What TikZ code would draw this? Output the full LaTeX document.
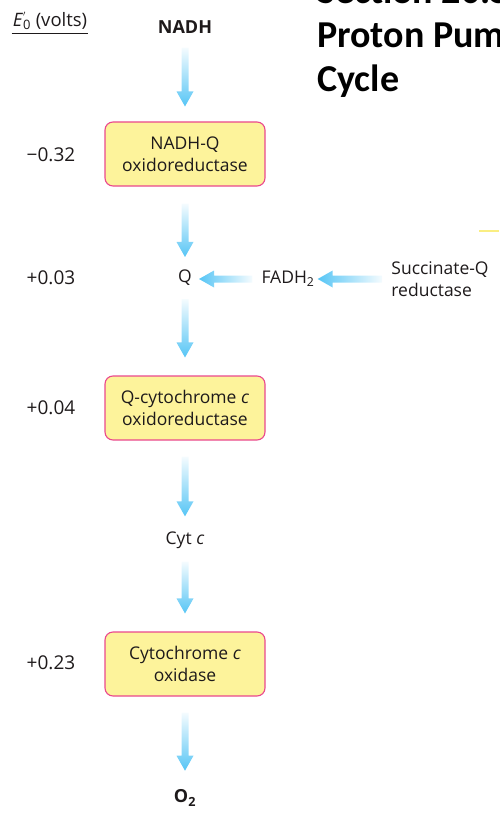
\documentclass[tikz,border=0pt]{standalone}
\usepackage{fontspec}
\setmainfont{Open Sans}
\newfontfamily\titlefont{Carlito}
\usetikzlibrary{calc, positioning}

\definecolor{flowblue}{RGB}{86,197,245}
\definecolor{enzymefill}{RGB}{253,243,155}
\definecolor{enzymeline}{RGB}{234,72,142}
\definecolor{textgray}{RGB}{30,26,27}
\definecolor{stripyellow}{RGB}{250,238,130}

% shaded flow arrows (tail pale, head blue)
\newcommand\downflow[2]{%
  \shade[top color=flowblue!6, bottom color=flowblue]
    let \p1=(#1), \p2=(#2) in
    (\x1-3.5pt,\y1) -- (\x1+3.5pt,\y1) -- (\x1+3.5pt,\y2+15pt) -- (\x1+8.5pt,\y2+15pt)
    -- (\x1,\y2) -- (\x1-8.5pt,\y2+15pt) -- (\x1-3.5pt,\y2+15pt) -- cycle;}
\newcommand\leftflow[2]{%
  \shade[left color=flowblue, right color=flowblue!6]
    let \p1=(#1), \p2=(#2) in
    (\x1,\y1-3.5pt) -- (\x2+15pt,\y1-3.5pt) -- (\x2+15pt,\y1-8.5pt) -- (\x2,\y1)
    -- (\x2+15pt,\y1+8.5pt) -- (\x2+15pt,\y1+3.5pt) -- (\x1,\y1+3.5pt) -- cycle;}

\begin{document}
\begin{tikzpicture}[x=1pt,y=-1pt,
    enzyme/.style={draw=enzymeline, fill=enzymefill, line width=1.1pt, rounded corners=8pt,
      minimum width=160pt, minimum height=64pt, align=center, text=textgray,
      font=\fontsize{17.5}{22}\selectfont},
    carrier/.style={text=textgray, font=\fontsize{17.5}{22}\selectfont, inner sep=1pt},
    potential/.style={text=textgray, font=\fontsize{19}{22}\selectfont},
    headline/.style={font=\titlefont\bfseries\fontsize{38}{44}\selectfont, anchor=base west, inner sep=0pt}]
  \useasboundingbox (0,0) rectangle (499,821);
  \clip (0,0) rectangle (499,821);

  % title
  \node[headline] (title1) at (317,4) {Section 20.5};
  \node[headline] (title2) at (317,48) {Proton Pump};
  \node[headline] (title3) at (317,92) {Cycle};
  \draw[stripyellow, line width=2pt] (479,231) -- (499,231);

  % potential scale
  \node[potential, inner sep=1pt, font=\fontsize{18.5}{22}\selectfont] (scale) at (50,21) {\textit{E}\rlap{\raisebox{5pt}{\fontsize{12}{12}\selectfont$'$}}\textsubscript{0} (volts)};
  \draw[textgray, line width=0.9pt] (scale.south west) ++(0,2) -- ($(scale.south east)+(0,2)$);
  \node[potential] (v1) at (51,155) {−0.32};
  \node[potential] (v2) at (51,278) {+0.03};
  \node[potential] (v3) at (51,408) {+0.04};
  \node[potential] (v4) at (51,663) {+0.23};

  % chain
  \node[carrier, font=\bfseries\fontsize{18}{20}\selectfont] (nadh) at (185,27) {NADH};
  \node[enzyme] (nadhq) at (185,154) {NADH-Q\\oxidoreductase};
  \node[carrier] (q) at (185,278) {Q};
  \node[carrier] (fadh) at (288,279) {FADH\textsubscript{2}};
  \node[carrier, align=left] (sqr) at (440,279) {Succinate-Q\\reductase};
  \node[enzyme] (qcyt) at (185,408) {Q-cytochrome \textit{c}\\oxidoreductase};
  \node[carrier] (cytc) at (185,540) {Cyt \textit{c}};
  \node[enzyme] (cox) at (185,664) {Cytochrome \textit{c}\\oxidase};
  \node[carrier, font=\bfseries\fontsize{18}{20}\selectfont] (o2) at (185,798) {O\textsubscript{2}};

  \downflow{$(nadh.south)+(0,13)$}{$(nadhq.north)+(0,-15)$}
  \downflow{$(nadhq.south)+(0,17)$}{$(q.north)+(0,-12)$}
  \downflow{$(q.south)+(0,12)$}{$(qcyt.north)+(0,-18)$}
  \downflow{$(qcyt.south)+(0,16)$}{$(cytc.north)+(0,-14)$}
  \downflow{$(cytc.south)+(0,12)$}{$(cox.north)+(0,-18)$}
  \downflow{$(cox.south)+(0,16)$}{$(o2.north)+(0,-18)$}
  \leftflow{$(fadh.west)+(-8,0)$}{$(q.east)+(6,0)$}
  \leftflow{$(sqr.west)+(-8,0)$}{$(fadh.east)+(2,0)$}
\end{tikzpicture}
\end{document}
